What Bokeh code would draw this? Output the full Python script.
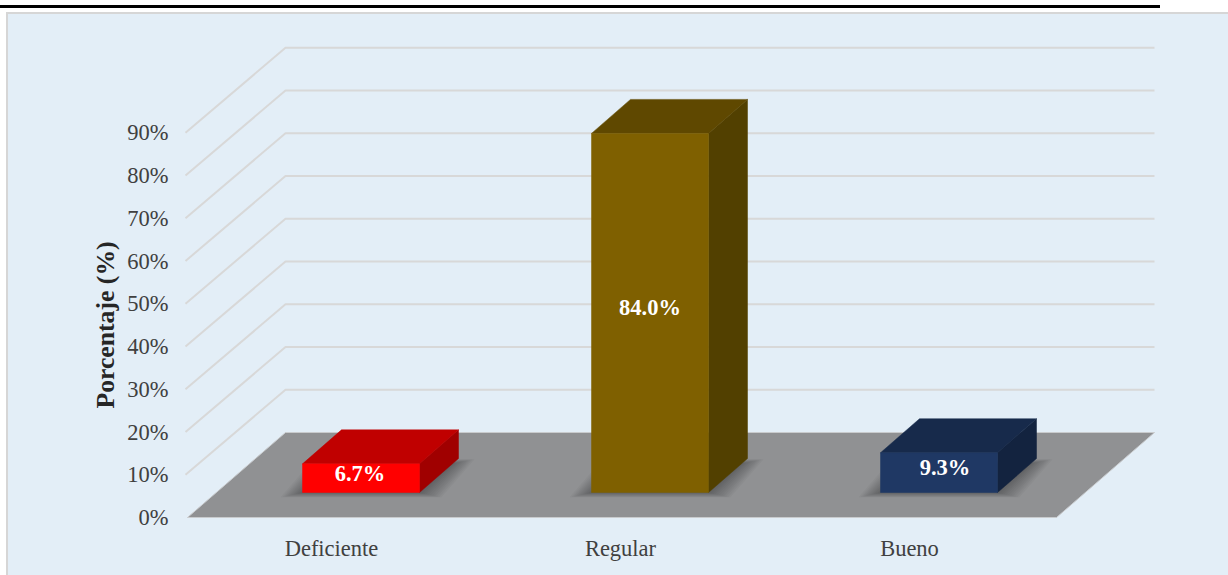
from bokeh.plotting import figure
from bokeh.models import FixedTicker, LinearAxis, Title
from bokeh.core.properties import value
from bokeh.embed import file_html
from bokeh.resources import INLINE

categories = ["Deficiente", "Regular", "Bueno"]
values = [6.7, 84.0, 9.3]
labels = ["6.7%", "84.0%", "9.3%"]
y_ticks = [0, 10, 20, 30, 40, 50, 60, 70, 80, 90]
front_colors = ["#ff0000", "#7f6000", "#1f3864"]
top_colors = ["#c00000", "#5f4800", "#172a4b"]
side_colors = ["#a00000", "#524000", "#13233f"]

W, H = 1228, 575
F_L, F_R, F_T, F_B = 178, 1228, 20, 527
Y0_PX, PX_PER_PCT = 517, 4.275
CAT0_PX, CAT_STEP = 331, 289

def ux(px):
    return px / CAT_STEP

def uy(px):
    return px / PX_PER_PCT

x_start = (F_L - CAT0_PX) / CAT_STEP
x_end = (F_R - CAT0_PX) / CAT_STEP
y_start = (Y0_PX - F_B) / PX_PER_PCT
y_end = (Y0_PX - F_T) / PX_PER_PCT

page_bg = {
    "position": "fixed", "left": "0px", "top": "0px",
    "background-image": "linear-gradient(#000,#000),linear-gradient(#e3eef7,#e3eef7),linear-gradient(#d6d6d6,#d6d6d6)",
    "background-size": f"1160px 3px,{W - 8}px {H - 14}px,{W - 6}px {H - 12}px",
    "background-position": "0px 5px,8px 14px,6px 12px",
    "background-repeat": "no-repeat",
}

p = figure(width=W, height=H, output_backend="svg", toolbar_location=None,
           x_range=(x_start, x_end), y_range=(y_start, y_end),
           min_border_left=F_L, min_border_right=W - F_R, min_border_top=F_T, min_border_bottom=H - F_B,
           x_axis_location=None, y_axis_location=None,
           background_fill_color=None, border_fill_color=None, outline_line_color=None,
           styles=page_bg)
p.grid.visible = False

# projection of the 3D box
WALL_DX, WALL_DY = ux(98), uy(85)
LEFT_EDGE = ux(187 - CAT0_PX)
RIGHT_EDGE = ux(1056 - CAT0_PX)
BAR_W = ux(117)
BAR_DX, BAR_DY = ux(39), uy(34)
BASE_Y = uy(517 - 492)

# gridlines on the side and back walls
for t in y_ticks[1:]:
    p.line([LEFT_EDGE - ux(2), LEFT_EDGE + WALL_DX, RIGHT_EDGE + WALL_DX],
           [t, t + WALL_DY, t + WALL_DY], line_color="#d8d8d8", line_width=2)

# floor
p.patch([LEFT_EDGE, RIGHT_EDGE, RIGHT_EDGE + WALL_DX, LEFT_EDGE + WALL_DX],
        [0, 0, WALL_DY, WALL_DY], fill_color="#909193", line_color="#c9cbcd", line_width=1)

fx0 = [i + ux(-29) for i in range(3)]
fx1 = [f + BAR_W for f in fx0]

# soft contact shadows on the floor
for s in range(11):
    g = 22 - s * 2.1
    for a, b in zip(fx0, fx1):
        xa, xb = a - ux(g), b + ux(g)
        yf = BASE_Y - uy(g * 0.22)
        yb = BASE_Y + BAR_DY * 0.85 + uy(g * 0.2)
        shift = BAR_DX * 0.85
        p.patch([xa, xb, xb + shift, xa + shift], [yf, yf, yb, yb],
                fill_color="#000000", fill_alpha=0.03, line_color=None)

for a, b, v, fc, tc, sc in zip(fx0, fx1, values, front_colors, top_colors, side_colors):
    top = BASE_Y + v
    p.patch([b, b + BAR_DX, b + BAR_DX, b], [BASE_Y, BASE_Y + BAR_DY, top + BAR_DY, top],
            fill_color=sc, line_color=sc, line_width=0.5)
    p.patch([a, b, b + BAR_DX, a + BAR_DX], [top, top, top + BAR_DY, top + BAR_DY],
            fill_color=tc, line_color=tc, line_width=0.5)
    p.patch([a, b, b, a], [BASE_Y, BASE_Y, top, top], fill_color=fc, line_color=fc, line_width=0.5)

# value labels
label_shift = [ux(-1), 0, ux(6)]
lx = [(a + b) / 2 + s for a, b, s in zip(fx0, fx1, label_shift)]
ly = [BASE_Y + v / 2 for v in values]
p.text(lx, ly, text=labels, text_font=value("Liberation Serif"), text_font_style="bold",
       text_font_size="22.5px", text_color="#ffffff", text_align="center", text_baseline="middle",
       y_offset=-5)

# axes
yax = LinearAxis(ticker=FixedTicker(ticks=y_ticks),
                 major_label_overrides={t: f"{t}%" for t in y_ticks},
                 axis_line_color=None, major_tick_line_color=None, minor_tick_line_color=None,
                 major_tick_out=0, major_tick_in=0,
                 major_label_text_font="Liberation Serif", major_label_text_font_size="22.5px",
                 major_label_text_color="#404040", major_label_standoff=10)
p.add_layout(yax, "left")
xax = LinearAxis(ticker=FixedTicker(ticks=[0, 1, 2]),
                 major_label_overrides={i: c for i, c in enumerate(categories)},
                 axis_line_color=None, major_tick_line_color=None, minor_tick_line_color=None,
                 major_tick_out=0, major_tick_in=0,
                 major_label_text_font="Liberation Serif", major_label_text_font_size="22.5px",
                 major_label_text_color="#404040", major_label_standoff=8)
p.add_layout(xax, "below")
p.add_layout(Title(text="Porcentaje (%)", text_font="Liberation Serif", text_font_style="bold",
                   text_font_size="25.7px", text_color="#262626", align="left",
                   offset=F_B - 408, standoff=10), "left")

open("out.html", "w").write(file_html(p, INLINE))
